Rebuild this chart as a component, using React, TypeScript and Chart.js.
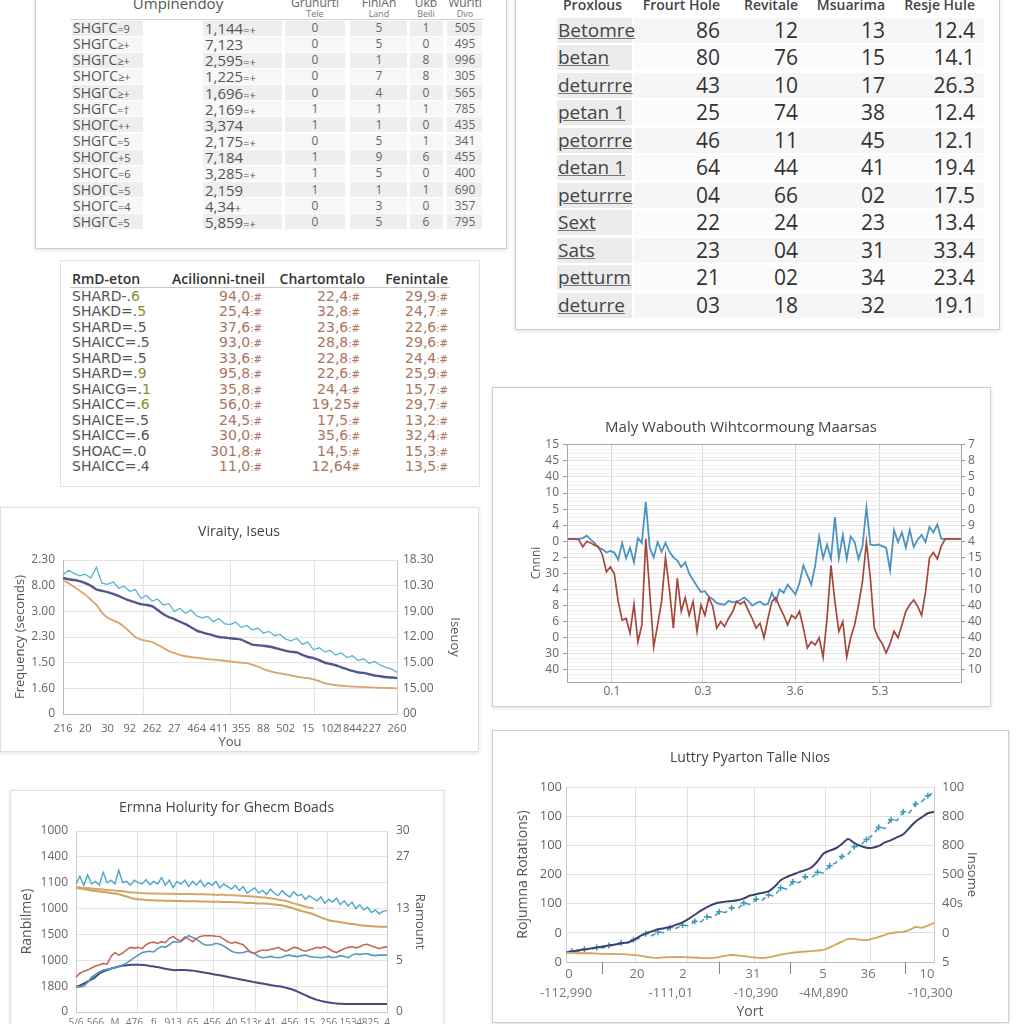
import React, { useEffect, useRef } from 'react';
import { Chart, registerables } from 'chart.js';

Chart.register(...registerables);

const FONT = '"Open Sans", "DejaVu Sans", sans-serif';
const WIDE = '"DejaVu Sans", "Open Sans", sans-serif';

// ---------------- Table 1 data ----------------
const t1Labels = ['SHGΓC=9', 'SHGΓC≥+', 'SHGΓC≥+', 'SHOΓC≥+', 'SHGΓC≥+', 'SHGΓC=†', 'SHOΓC++', 'SHGΓC=5', 'SHOΓC+5', 'SHOΓC=6', 'SHOΓC=5', 'SHOΓC=4', 'SHGΓC=5'];
const t1Values = ['1,144=+', '7,123', '2,595=+', '1,225=+', '1,696=+', '2,169=+', '3,374', '2,175=+', '7,184', '3,285=+', '2,159', '4,34+', '5,859=+'];
const t1ColA = ['0', '0', '0', '0', '0', '1', '1', '0', '1', '1', '1', '0', '0'];
const t1ColB = ['5', '5', '1', '7', '4', '1', '1', '5', '9', '5', '1', '3', '5'];
const t1ColC = ['1', '0', '8', '8', '0', '1', '0', '1', '6', '0', '1', '0', '6'];
const t1ColD = ['505', '495', '996', '305', '565', '785', '435', '341', '455', '400', '690', '357', '795'];

// ---------------- Table 2 data ----------------
const t2Headers = ['Proxlous', 'Frourt Hole', 'Revitale', 'Msuarima', 'Resje Hule'];
const t2Labels = ['Betomre', 'betan', 'deturrre', 'petan 1', 'petorrre', 'detan 1', 'peturrre', 'Sext', 'Sats', 'petturm', 'deturre'];
const t2Col1 = ['86', '80', '43', '25', '46', '64', '04', '22', '23', '21', '03'];
const t2Col2 = ['12', '76', '10', '74', '11', '44', '66', '24', '04', '02', '18'];
const t2Col3 = ['13', '15', '17', '38', '45', '41', '02', '23', '31', '34', '32'];
const t2Col4 = ['12.4', '14.1', '26.3', '12.4', '12.1', '19.4', '17.5', '13.4', '33.4', '23.4', '19.1'];

// ---------------- Table 3 data ----------------
const t3Headers = ['RmD-eton', 'Acilionni-tneil', 'Chartomtalo', 'Fenintale'];
const t3Labels = ['SHARD-.6', 'SHAKD=.5', 'SHARD=.5', 'SHAICC=.5', 'SHARD=.5', 'SHARD=.9', 'SHAICG=.1', 'SHAICC=.6', 'SHAICE=.5', 'SHAICC=.6', 'SHOAC=.0', 'SHAICC=.4'];
const t3Col1 = ['94,0:#', '25,4:#', '37,6:#', '93,0:#', '33,6:#', '95,8:#', '35,8:#', '56,0:#', '24,5:#', '30,0:#', '301,8:#', '11,0:#'];
const t3Col2 = ['22,4:#', '32,8:#', '23,6:#', '28,8:#', '22,8:#', '22,6:#', '24,4:#', '19,25#', '17,5:#', '35,6:#', '14,5:#', '12,64#'];
const t3Col3 = ['29,9:#', '24,7:#', '22,6:#', '29,6:#', '24,4:#', '25,9:#', '15,7:#', '29,7:#', '13,2:#', '32,4:#', '15,3:#', '13,5:#'];

// ---------------- Chart 1: Viraity, Iseus ----------------
const c1Title = 'Viraity, Iseus';
const c1XTicks = ['216', '20', '30', '92', '262', '27', '464', '411', '355', '88', '502', '15', '102', '18442', '27', '260'];
const c1YLeft = ['0', '1.60', '1.50', '2.30', '3.00', '8.00', '2.30'];
const c1YRight = ['00', '15.00', '15.00', '12.00', '19.00', '10.30', '18.30'];
const c1Blue = [
  5.42, 5.6, 5.48, 5.38, 5.45, 5.3, 5.72, 5.1, 5.05, 5.15,
  4.9, 4.98, 4.78, 4.85, 4.5, 4.62, 4.4, 4.48, 4.25, 4.3,
  4.0, 4.12, 3.92, 4.05, 3.82, 3.75, 3.8, 3.6, 3.72, 3.52,
  3.48, 3.58, 3.38, 3.45, 3.28, 3.35, 3.15, 3.22, 3.05, 3.1,
  2.92, 2.85, 2.95, 2.72, 2.8, 2.5, 2.58, 2.42, 2.48, 2.3,
  2.38, 2.2, 2.27, 2.08, 2.15, 1.98, 2.05, 1.9, 1.82, 1.76,
  1.62,
];
const c1Navy = [
  5.3, 5.25, 5.22, 5.18, 5.1, 5.0, 4.85, 4.8, 4.75, 4.68,
  4.6, 4.5, 4.42, 4.35, 4.28, 4.25, 4.2, 4.05, 3.9, 3.78,
  3.7, 3.6, 3.5, 3.38, 3.25, 3.18, 3.12, 3.06, 3.0, 2.98,
  2.95, 2.93, 2.9, 2.8, 2.7, 2.68, 2.66, 2.63, 2.58, 2.52,
  2.46, 2.42, 2.4, 2.3, 2.22, 2.18, 2.1, 2.0, 1.95, 1.9,
  1.82, 1.75, 1.68, 1.62, 1.6, 1.55, 1.5, 1.47, 1.44, 1.42,
  1.4,
];
const c1Orange = [
  5.2, 5.1, 4.95, 4.8, 4.65, 4.45, 4.25, 3.95, 3.75, 3.65,
  3.55, 3.4, 3.2, 3.0, 2.9, 2.85, 2.8, 2.7, 2.58, 2.45,
  2.38, 2.3, 2.25, 2.22, 2.2, 2.17, 2.14, 2.12, 2.1, 2.08,
  2.05, 2.02, 2.0, 1.98, 1.92, 1.85, 1.75, 1.68, 1.62, 1.58,
  1.54, 1.5, 1.46, 1.42, 1.4, 1.35, 1.28, 1.2, 1.15, 1.12,
  1.1, 1.09, 1.07, 1.06, 1.05, 1.04, 1.03, 1.02, 1.02, 1.01,
  1.0,
];

// ---------------- Chart 2: Maly Wabouth ... ----------------
const c2Title = 'Maly Wabouth Wihtcormoung Maarsas';
const c2XTicks = ['0.1', '0.3', '3.6', '5.3'];
const c2YLeft = ['15', '45', '40', '10', '5', '4', '0', '2', '30', '4', '8', '6', '0', '30', '40'];
const c2YRight = ['7', '8', '5', '0', '0', '9', '4', '15', '10', '10', '40', '40', '40', '20', '10'];
const c2Blue = [
  8.15, 8.15, 8.15, 8.15, 8.2, 8.35, 8.1, 7.9, 7.6, 7.5,
  7.3, 7.4, 7.3, 6.85, 7.9, 6.95, 7.6, 6.7, 8.2, 7.9,
  10.45, 7.6, 7.0, 7.95, 7.35, 7.9, 7.35, 7.0, 6.8, 6.4,
  6.7, 6.0, 5.6, 5.2, 4.85, 4.9, 4.55, 4.4, 4.15, 4.1,
  4.05, 4.3, 4.2, 4.25, 4.35, 4.5, 4.3, 4.0, 4.15, 4.25,
  4.05, 4.1, 4.8, 4.25, 5.0, 4.8, 5.3, 5.0, 4.7, 5.4,
  6.5, 5.9, 5.3, 6.5, 8.3, 6.95, 7.8, 6.9, 9.5, 6.95,
  8.4, 6.9, 8.3, 7.95, 6.9, 7.7, 10.1, 7.8, 7.75, 7.8,
  7.7, 7.6, 6.2, 8.7, 7.95, 8.55, 7.6, 8.7, 7.65, 8.1,
  8.4, 7.95, 8.9, 8.55, 9.05, 8.15, 8.15, 8.15, 8.15, 8.15,
  8.15,
];
const c2Red = [
  8.15, 8.15, 8.15, 8.1, 7.65, 8.0, 7.9, 7.75, 7.65, 7.15,
  6.1, 6.4, 6.0, 4.25, 3.1, 3.2, 2.3, 4.1, 1.75, 2.8,
  8.15, 4.85, 1.43, 2.8, 4.25, 7.0, 5.0, 2.6, 5.7, 3.65,
  4.5, 3.4, 4.25, 2.4, 4.05, 3.4, 4.5, 3.95, 2.6, 3.0,
  2.7, 3.2, 3.6, 4.25, 4.1, 4.25, 3.7, 3.2, 2.6, 2.9,
  2.0, 3.2, 4.25, 4.5, 3.9, 3.4, 2.8, 3.4, 3.2, 3.65,
  2.6, 1.37, 1.75, 1.55, 2.0, 0.8, 3.2, 6.5, 4.25, 2.4,
  3.0, 0.8, 2.0, 2.8, 4.05, 5.5, 7.95, 5.7, 2.6, 2.0,
  1.65, 1.05, 1.65, 2.4, 2.0, 2.8, 3.65, 4.05, 4.35, 3.95,
  3.4, 4.85, 6.97, 7.3, 6.9, 7.7, 8.15, 8.15, 8.15, 8.15,
  8.15,
];

// ---------------- Chart 3: Ermna Holurity ... ----------------
const c3Title = 'Ermna Holurity for Ghecm Boads';
const c3XTicks = ['5/6', '566', 'M', '476', 'fi', '913', '65', '456', '40', '513r', '41', '456', '15', '256', '153', '4825', '4'];
const c3YLeft = ['0', '1800', '1000', '1500', '1000', '1100', '1400', '1000'];
const c3YRightValues = [0, 2, 4, 6, 7];
const c3YRight = ['0', '5', '13', '27', '30'];
const c3Blue = [
  4.95, 5.25, 4.9, 5.3, 4.95, 5.05, 4.9, 5.4, 5.0, 5.1,
  4.95, 5.48, 5.0, 5.05, 4.9, 5.1, 5.0, 4.95, 5.12, 4.92,
  5.05, 4.95, 5.2, 4.9, 5.1, 4.8, 5.05, 4.95, 5.1, 4.85,
  5.05, 4.9, 5.1, 4.85, 5.0, 4.9, 5.05, 4.8, 4.95, 4.85,
  4.75, 4.9, 4.7, 4.85, 4.6, 4.7, 4.8, 4.6, 4.7, 4.55,
  4.75, 4.6, 4.5, 4.7, 4.55, 4.45, 4.65, 4.5, 4.55, 4.35,
  4.5, 4.4, 4.3, 4.45, 4.2, 4.35, 4.25, 4.4, 4.15, 4.3,
  4.1, 4.25, 4.0, 4.15, 3.95, 4.05, 3.85, 3.95, 3.8, 3.9,
  3.92,
];
const c3TanA = [
  4.83, 4.82, 4.8, 4.79, 4.78, 4.76, 4.75, 4.74, 4.72, 4.71,
  4.7, 4.68, 4.67, 4.65, 4.63, 4.62, 4.61, 4.6, 4.59, 4.58,
  4.58, 4.58, 4.57, 4.57, 4.57, 4.57, 4.56, 4.56, 4.56, 4.56,
  4.56, 4.55, 4.55, 4.55, 4.54, 4.54, 4.53, 4.53, 4.53, 4.52,
  4.52, 4.51, 4.5, 4.49, 4.48, 4.47, 4.46, 4.45, 4.43, 4.42,
  4.4, 4.38, 4.35, 4.32, 4.29, 4.25, 4.2, 4.16, 4.12, 4.08,
  4.04, 4.02, null, null, null, null, null, null, null, null,
  null, null, null, null, null, null, null, null, null, null,
  null,
];
const c3TanB = [
  4.8, 4.78, 4.76, 4.73, 4.7, 4.68, 4.66, 4.64, 4.62, 4.6,
  4.58, 4.55, 4.51, 4.47, 4.42, 4.38, 4.36, 4.35, 4.33, 4.32,
  4.32, 4.31, 4.31, 4.3, 4.3, 4.3, 4.29, 4.29, 4.28, 4.28,
  4.28, 4.28, 4.27, 4.27, 4.27, 4.26, 4.26, 4.26, 4.25, 4.25,
  4.25, 4.24, 4.24, 4.23, 4.22, 4.22, 4.21, 4.2, 4.2, 4.19,
  4.18, 4.16, 4.14, 4.12, 4.09, 4.05, 4.0, 3.95, 3.9, 3.87,
  3.83, 3.78, 3.72, 3.66, 3.6, 3.55, 3.52, 3.5, 3.47, 3.45,
  3.42, 3.4, 3.38, 3.36, 3.34, 3.33, 3.32, 3.31, 3.3, 3.3,
  3.29,
];
const c3Red = [
  1.35, 1.5, 1.58, 1.62, 1.7, 1.78, 1.82, 1.88, 1.85, 2.15,
  2.3, 2.2, 2.28, 2.4, 2.5, 2.47, 2.5, 2.45, 2.6, 2.68,
  2.7, 2.65, 2.72, 2.68, 2.85, 2.92, 2.8, 2.75, 2.9, 2.82,
  2.72, 2.85, 2.92, 2.95, 2.95, 2.95, 2.93, 2.92, 2.82, 2.72,
  2.66, 2.7, 2.65, 2.6, 2.45, 2.3, 2.28, 2.35, 2.4, 2.38,
  2.42, 2.45, 2.5, 2.42, 2.35, 2.42, 2.5, 2.48, 2.4, 2.35,
  2.4, 2.45, 2.5, 2.48, 2.52, 2.45, 2.35, 2.3, 2.38, 2.45,
  2.5, 2.52, 2.48, 2.52, 2.6, 2.62, 2.55, 2.5, 2.45, 2.5,
  2.52,
];
const c3Teal = [
  0.97, 0.97, 1.0, 1.15, 1.35, 1.45, 1.55, 1.62, 1.65, 1.68,
  1.72, 1.76, 1.82, 1.89, 2.0, 2.1, 2.2, 2.3, 2.33, 2.35,
  2.32, 2.45, 2.53, 2.5, 2.6, 2.72, 2.7, 2.72, 2.85, 2.95,
  2.88, 2.82, 2.7, 2.6, 2.58, 2.6, 2.66, 2.62, 2.55, 2.45,
  2.35, 2.3, 2.28, 2.3, 2.35, 2.32, 2.25, 2.15, 2.1, 2.12,
  2.15, 2.12, 2.1, 2.12, 2.18, 2.2, 2.16, 2.14, 2.18, 2.2,
  2.15, 2.13, 2.12, 2.1, 2.12, 2.15, 2.1, 2.13, 2.18, 2.15,
  2.1, 2.2, 2.25, 2.22, 2.25, 2.25, 2.2, 2.18, 2.2, 2.2,
  2.2,
];
const c3Navy = [
  0.97, 1.02, 1.1, 1.18, 1.26, 1.36, 1.48, 1.56, 1.62, 1.68,
  1.72, 1.76, 1.79, 1.81, 1.82, 1.83, 1.83, 1.82, 1.81, 1.78,
  1.76, 1.74, 1.7, 1.67, 1.64, 1.62, 1.62, 1.62, 1.62, 1.61,
  1.6, 1.58, 1.55, 1.53, 1.5, 1.47, 1.44, 1.42, 1.39, 1.36,
  1.33, 1.3, 1.27, 1.24, 1.21, 1.18, 1.15, 1.12, 1.1, 1.07,
  1.04, 1.02, 1.0, 0.98, 0.94, 0.9, 0.85, 0.79, 0.72, 0.65,
  0.58, 0.52, 0.47, 0.43, 0.4, 0.37, 0.35, 0.33, 0.32, 0.31,
  0.31, 0.31, 0.31, 0.31, 0.31, 0.31, 0.31, 0.31, 0.31, 0.31,
  0.31,
];

// ---------------- Chart 4: Luttry Pyarton Talle Nios ----------------
const c4Title = 'Luttry Pyarton Talle Nios';
const c4XTop = ['0', '20', '2', '31', '5', '36', '10'];
const c4XBottom = ['-112,990', '-111,01', '-10,390', '-4M,890', '-10,300'];
const c4YLeft = ['0', '0', '100', '200', '100', '100', '100'];
const c4YRight = ['5', '0', '40s', '500', '800', '800', '100'];
const c4Navy = [
  0.32, 0.36, 0.4, 0.43, 0.46, 0.5, 0.53, 0.57, 0.6, 0.64,
  0.67, 0.75, 0.88, 0.98, 1.05, 1.12, 1.16, 1.2, 1.28, 1.36,
  1.48, 1.62, 1.76, 1.88, 1.98, 2.04, 2.07, 2.09, 2.12, 2.18,
  2.28, 2.32, 2.37, 2.42, 2.58, 2.8, 2.92, 3.0, 3.08, 3.15,
  3.24, 3.45, 3.72, 3.82, 3.9, 4.05, 4.22, 4.08, 3.98, 3.92,
  3.92, 3.98, 4.1, 4.18, 4.28, 4.38, 4.6, 4.82, 4.96, 5.1,
  5.15,
];
const c4Teal = [
  0.32, 0.38, 0.36, 0.44, 0.42, 0.5, 0.48, 0.57, 0.58, 0.66,
  0.64, 0.76, 0.82, 0.97, 0.9, 1.02, 1.0, 1.18, 1.16, 1.26,
  1.24, 1.4, 1.38, 1.55, 1.52, 1.72, 1.7, 1.86, 1.82, 2.02,
  1.98, 2.15, 2.12, 2.3, 2.26, 2.55, 2.5, 2.75, 2.72, 2.92,
  2.88, 3.08, 3.05, 3.3, 3.4, 3.62, 3.7, 3.95, 4.0, 4.2,
  4.35, 4.62, 4.58, 4.88, 4.85, 5.15, 5.12, 5.42, 5.5, 5.7,
  5.82,
];
const c4Orange = [
  0.31, 0.31, 0.3, 0.3, 0.3, 0.29, 0.28, 0.28, 0.27, 0.27,
  0.26, 0.24, 0.22, 0.18, 0.15, 0.14, 0.16, 0.17, 0.17, 0.17,
  0.16, 0.15, 0.14, 0.13, 0.14, 0.17, 0.21, 0.24, 0.23, 0.2,
  0.17, 0.15, 0.14, 0.16, 0.2, 0.25, 0.29, 0.32, 0.34, 0.36,
  0.37, 0.39, 0.42, 0.5, 0.6, 0.7, 0.79, 0.79, 0.76, 0.75,
  0.8, 0.86, 0.93, 0.99, 1.02, 1.03, 1.1, 1.2, 1.17, 1.25,
  1.34,
];

// ---------------- helpers ----------------
const guides = {
  id: 'guides',
  beforeDatasetsDraw(chart: any, _a: any, o: any) {
    const opts = o || {};
    const { ctx, chartArea: a } = chart;
    const w = a.right - a.left;
    const h = a.bottom - a.top;
    ctx.save();
    ctx.lineWidth = 1;
    if (opts.minorH) {
      ctx.strokeStyle = opts.minorColor || '#f1f1f1';
      opts.minorH.forEach((f: number) => {
        const y = Math.round(a.top + f * h) + 0.5;
        ctx.beginPath(); ctx.moveTo(a.left, y); ctx.lineTo(a.right, y); ctx.stroke();
      });
    }
    if (opts.v) {
      ctx.strokeStyle = opts.vColor || '#e0e0e0';
      opts.v.forEach((f: number) => {
        const x = Math.round(a.left + f * w) + 0.5;
        ctx.beginPath(); ctx.moveTo(x, a.top); ctx.lineTo(x, a.bottom); ctx.stroke();
      });
    }
    ctx.restore();
  },
  afterDraw(chart: any, _a: any, o: any) {
    const opts = o || {};
    const { ctx, chartArea: a } = chart;
    ctx.save();
    ctx.lineWidth = 1;
    if (opts.frame) {
      ctx.strokeStyle = opts.frame;
      ctx.strokeRect(Math.round(a.left) + 0.5, Math.round(a.top) + 0.5, Math.round(a.right - a.left), Math.round(a.bottom - a.top));
    }
    if (opts.marks) {
      ctx.strokeStyle = opts.markColor || '#888';
      opts.marks.forEach((f: number) => {
        const x = Math.round(a.left + f * (a.right - a.left)) + 0.5;
        ctx.beginPath(); ctx.moveTo(x, a.bottom); ctx.lineTo(x, a.bottom + (opts.markLen || 10)); ctx.stroke();
      });
    }
    ctx.restore();
  },
};

const setTicks = (values: number[]) => (s: any) => {
  s.ticks = values.map((v) => ({ value: v }));
};
const range = (n: number) => Array.from({ length: n }, (_, i) => i);
const tickFont = (size: number) => ({ family: FONT, size });
const axisTitle = (text: string, pad: number, size = 13) => ({
  display: true,
  text,
  color: '#555',
  font: { family: FONT, size },
  padding: { top: pad, bottom: 0 },
});
const titleOpt = (text: string, size: number, top: number, bottom: number) => ({
  display: true,
  text,
  color: '#444',
  font: { family: FONT, size, weight: 'normal' as const },
  padding: { top, bottom },
});
const line = (data: any[], color: string, width: number, extra: any = {}) => ({
  data,
  borderColor: color,
  backgroundColor: color,
  borderWidth: width,
  pointRadius: 0,
  tension: 0,
  fill: false,
  ...extra,
});

// ---------------- chart configs ----------------
function makeChart1(): any {
  return {
    type: 'line',
    data: {
      labels: c1Blue.map((_, i) => String(i)),
      datasets: [
        line(c1Orange, '#d9a36a', 1.8, { tension: 0.3 }),
        line(c1Navy, '#53568f', 2.4, { tension: 0.2 }),
        line(c1Blue, '#5bb2d6', 1.3),
      ],
    },
    options: {
      responsive: false,
      animation: false,
      layout: { padding: 0 },
      plugins: {
        legend: { display: false },
        tooltip: { enabled: false },
        title: titleOpt(c1Title, 14, 16.6, 19.6),
        guides: { v: [0.24, 0.5, 0.75], vColor: '#e4e4e4' },
      },
      scales: {
        x: { type: 'category', display: false },
        xl: {
          type: 'linear', position: 'bottom', min: 0, max: 15,
          afterBuildTicks: setTicks(range(c1XTicks.length)),
          ticks: { callback: (_v: any, i: number) => c1XTicks[i], color: '#666', font: tickFont(11), padding: 8, maxRotation: 0, autoSkip: false },
          grid: { display: false, drawTicks: false },
          border: { display: true, color: '#bbb' },
          title: { display: true, text: 'You', color: '#555', font: { family: FONT, size: 13 }, padding: { top: 0, bottom: 0 } },
          afterFit: (s: any) => { s.height = 36; },
        },
        y: {
          position: 'left', min: 0, max: 6,
          afterBuildTicks: setTicks(range(7)),
          ticks: { callback: (v: any) => c1YLeft[Math.round(v)], color: '#666', font: tickFont(12), padding: 8, autoSkip: false },
          grid: { color: '#e4e4e4', drawTicks: false },
          border: { display: true, color: '#bbb' },
          title: axisTitle('Frequency (seconds)', 12),
          afterFit: (s: any) => { s.width = 63; },
        },
        y1: {
          position: 'right', min: 0, max: 6,
          afterBuildTicks: setTicks(range(7)),
          ticks: { callback: (v: any) => c1YRight[Math.round(v)], color: '#666', font: tickFont(12), padding: 6, autoSkip: false },
          grid: { drawOnChartArea: false, drawTicks: false },
          border: { display: true, color: '#ccc' },
          title: axisTitle('Iseuoy', 15),
          afterFit: (s: any) => { s.width = 81; },
        },
      },
    },
    plugins: [guides],
  };
}

function makeChart2(): any {
  const minor: number[] = [];
  for (let k = -3; k <= 56; k++) {
    if (k % 4 !== 0) minor.push((14.05 - k / 4) / 14.8);
  }
  return {
    type: 'line',
    data: {
      labels: c2Blue.map((_, i) => String(i)),
      datasets: [
        line(c2Red, '#a4483e', 1.7),
        line(c2Blue, '#4c93c0', 1.8),
      ],
    },
    options: {
      responsive: false,
      animation: false,
      layout: { padding: 0 },
      plugins: {
        legend: { display: false },
        tooltip: { enabled: false },
        title: titleOpt(c2Title, 15, 32, 7),
        guides: { minorH: minor, minorColor: '#efefef', frame: '#a8a8a8' },
      },
      scales: {
        x: { type: 'category', display: false },
        xl: {
          type: 'linear', position: 'bottom', min: 0, max: 100,
          afterBuildTicks: setTicks([11.4, 34.5, 57.9, 79.4]),
          ticks: { callback: (_v: any, i: number) => c2XTicks[i], color: '#666', font: tickFont(12), padding: 2, maxRotation: 0, autoSkip: false },
          grid: { display: true, color: '#d6d6d6', drawTicks: false },
          border: { display: false },
          afterFit: (s: any) => { s.height = 23; },
        },
        y: {
          position: 'left', min: -0.75, max: 14.05,
          afterBuildTicks: setTicks(range(15)),
          ticks: { callback: (v: any) => c2YLeft[14 - Math.round(v)], color: '#666', font: tickFont(12), padding: 4, autoSkip: false },
          grid: { color: '#e2e2e2', drawTicks: true, tickLength: 4, tickColor: '#999' },
          border: { display: false },
          title: axisTitle('Cnnni', 37, 12),
          afterFit: (s: any) => { s.width = 75; },
        },
        y1: {
          position: 'right', min: -0.75, max: 14.05,
          afterBuildTicks: setTicks(range(15)),
          ticks: { callback: (v: any) => c2YRight[14 - Math.round(v)], color: '#666', font: tickFont(12), padding: 3, autoSkip: false },
          grid: { drawOnChartArea: false, drawTicks: true, tickLength: 4, tickColor: '#999' },
          border: { display: false },
          afterFit: (s: any) => { s.width = 29; },
        },
      },
    },
    plugins: [guides],
  };
}

function makeChart3(): any {
  return {
    type: 'line',
    data: {
      labels: c3Blue.map((_, i) => String(i)),
      datasets: [
        line(c3TanA, '#d6a865', 2, { tension: 0.3, spanGaps: false }),
        line(c3TanB, '#d2a15e', 2, { tension: 0.3 }),
        line(c3Blue, '#4ea6ca', 1.4),
        line(c3Red, '#c0695c', 1.6),
        line(c3Teal, '#5597bf', 1.6),
        line(c3Navy, '#4a4880', 2, { tension: 0.3 }),
      ],
    },
    options: {
      responsive: false,
      animation: false,
      layout: { padding: 0 },
      plugins: {
        legend: { display: false },
        tooltip: { enabled: false },
        title: titleOpt(c3Title, 14, 9.6, 14.6),
        guides: { v: [0.196, 0.322, 0.441, 0.576, 0.711, 0.807], vColor: '#e2e2e2' },
      },
      scales: {
        x: { type: 'category', display: false },
        xl: {
          type: 'linear', position: 'bottom', min: 0, max: 16,
          afterBuildTicks: setTicks(range(c3XTicks.length)),
          ticks: { callback: (_v: any, i: number) => c3XTicks[i], color: '#777', font: tickFont(10), padding: 5, maxRotation: 0, autoSkip: false },
          grid: { display: false, drawTicks: false },
          border: { display: true, color: '#ccc' },
          afterFit: (s: any) => { s.height = 28; },
        },
        y: {
          position: 'left', min: 0, max: 7,
          afterBuildTicks: setTicks(range(8)),
          ticks: { callback: (v: any) => c3YLeft[Math.round(v)], color: '#666', font: tickFont(12), padding: 8, autoSkip: false },
          grid: { color: '#e2e2e2', drawTicks: false },
          border: { display: true, color: '#ccc' },
          title: axisTitle('Ranbilme)', 9, 14),
          afterFit: (s: any) => { s.width = 66; },
        },
        y1: {
          position: 'right', min: 0, max: 7,
          afterBuildTicks: setTicks(c3YRightValues),
          ticks: { callback: (_v: any, i: number) => c3YRight[i], color: '#666', font: tickFont(12), padding: 9, autoSkip: false },
          grid: { drawOnChartArea: false, drawTicks: false },
          border: { display: true, color: '#ccc' },
          title: axisTitle('Ramount', 15),
          afterFit: (s: any) => { s.width = 56; },
        },
      },
    },
    plugins: [guides],
  };
}

function makeChart4(): any {
  return {
    type: 'line',
    data: {
      labels: c4Navy.map((_, i) => String(i)),
      datasets: [
        line(c4Orange, '#d8a35a', 1.8, { tension: 0.3 }),
        line(c4Navy, '#3f406e', 2, { tension: 0.3 }),
        line(c4Teal, '#3b9ab8', 1.5, {
          borderDash: [5, 4],
          pointStyle: 'cross',
          pointRadius: (ctx: any) => (ctx.dataIndex % 2 === 1 ? 3 : 0),
          pointBorderWidth: 1.5,
          pointBorderColor: '#3b9ab8',
        }),
      ],
    },
    options: {
      responsive: false,
      animation: false,
      layout: { padding: 0 },
      plugins: {
        legend: { display: false },
        tooltip: { enabled: false },
        title: titleOpt(c4Title, 14, 19.6, 20.6),
        guides: { v: [0.188, 0.329, 0.511, 0.704, 0.826], vColor: '#e0e0e0', marks: [0.098, 0.416, 0.609, 0.921], markLen: 12, markColor: '#888' },
      },
      scales: {
        x: { type: 'category', display: false },
        xa: {
          type: 'linear', position: 'bottom', weight: 1, min: 0, max: 100,
          afterBuildTicks: setTicks([0.8, 19.3, 31.8, 50.8, 69.8, 82.1, 98.1]),
          ticks: { callback: (_v: any, i: number) => c4XTop[i], color: '#777', font: tickFont(13), padding: 4, maxRotation: 0, autoSkip: false },
          grid: { display: false, drawTicks: false },
          border: { display: true, color: '#bbb' },
          afterFit: (s: any) => { s.height = 20; },
        },
        xb: {
          type: 'linear', position: 'bottom', weight: 2, min: 0, max: 100,
          afterBuildTicks: setTicks([0, 28.5, 51.6, 70, 99]),
          ticks: { callback: (_v: any, i: number) => c4XBottom[i], color: '#777', font: tickFont(13), padding: 3, maxRotation: 0, autoSkip: false },
          grid: { display: false, drawTicks: false },
          border: { display: false },
          title: { display: true, text: 'Yort', color: '#555', font: { family: FONT, size: 14 }, padding: { top: 0, bottom: 4 } },
          afterFit: (s: any) => { s.height = 42; },
        },
        y: {
          position: 'left', min: 0, max: 6,
          afterBuildTicks: setTicks(range(7)),
          ticks: { callback: (v: any) => c4YLeft[Math.round(v)], color: '#666', font: tickFont(13), padding: 4, autoSkip: false },
          grid: { color: '#e0e0e0', drawTicks: false },
          border: { display: true, color: '#ccc' },
          title: axisTitle('Rojumna Rotations)', 23, 14),
          afterFit: (s: any) => { s.width = 74; },
        },
        y1: {
          position: 'right', min: 0, max: 6,
          afterBuildTicks: setTicks(range(7)),
          ticks: { callback: (v: any) => c4YRight[Math.round(v)], color: '#666', font: tickFont(13), padding: 8, autoSkip: false },
          grid: { drawOnChartArea: false, drawTicks: false },
          border: { display: true, color: '#ccc' },
          title: axisTitle('Insome', 28),
          afterFit: (s: any) => { s.width = 74; },
        },
      },
    },
    plugins: [guides],
  };
}

// ---------------- components ----------------
function ChartCanvas({ left, top, width, height, make }: any) {
  const ref = useRef<HTMLCanvasElement>(null);
  useEffect(() => {
    const chart = new Chart(ref.current as HTMLCanvasElement, make());
    return () => chart.destroy();
  }, []);
  return <canvas ref={ref} width={width} height={height} style={{ position: 'absolute', left, top, width, height }} />;
}

function T({ x, y, align = 'left', size = 13, color = '#555', weight = 400, family, children, style = {} }: any) {
  const lh = Math.round(size * 1.3);
  const base: any = {
    position: 'absolute', top: y - lh / 2, lineHeight: lh + 'px', fontSize: size, color,
    fontWeight: weight, whiteSpace: 'nowrap',
  };
  if (family) base.fontFamily = family;
  if (align === 'left') base.left = x;
  else if (align === 'right') base.right = 1024 - x;
  else { base.left = x; base.transform = 'translateX(-50%)'; }
  return <div style={{ ...base, ...style }}>{children}</div>;
}

function Box({ left, top, width, height, border = '#cfcfcf', shadow = true }: any) {
  return (
    <div style={{
      position: 'absolute', left, top, width, height, background: '#fff',
      border: `1px solid ${border}`, boxShadow: shadow ? '0 1px 4px rgba(0,0,0,0.13)' : 'none',
    }} />
  );
}

function Rect({ left, top, width, height, bg }: any) {
  return <div style={{ position: 'absolute', left, top, width, height, background: bg }} />;
}

const splitNum = (s: string) => {
  const m = s.match(/^([\d.,]+)(.*)$/);
  return m ? [m[1], m[2]] : [s, ''];
};

function Table1() {
  const rowY = (i: number) => 28 + 16.15 * i;
  const segs = [[72, 143], [203, 282], [285, 345], [350, 407], [410, 443], [447, 482]];
  return (
    <>
      <Box left={35} top={-12} width={470} height={259} />
      <Rect left={70} top={19} width={413} height={1} bg="#d4d4d4" />
      <T x={178} y={3} align="center" size={15} color="#555">Umpinendoy</T>
      <T x={315} y={3} align="center" size={12} color="#666">Grunurti</T>
      <T x={315} y={14} align="center" size={9} color="#777">Tele</T>
      <T x={379} y={3} align="center" size={12} color="#666">FiniAn</T>
      <T x={379} y={14} align="center" size={9} color="#777">Land</T>
      <T x={426} y={3} align="center" size={12} color="#666">Ukb</T>
      <T x={426} y={14} align="center" size={9} color="#777">Beili</T>
      <T x={465} y={3} align="center" size={12} color="#666">Wuriti</T>
      <T x={465} y={14} align="center" size={9} color="#777">Dvo</T>
      {t1Labels.map((lab, i) => {
        const y = rowY(i);
        const bg = i % 2 === 0 ? '#eeeeee' : '#f7f7f7';
        const [vMain, vSuf] = splitNum(t1Values[i]);
        return (
          <React.Fragment key={'t1' + i}>
            {segs.map((s, k) => (
              <Rect key={k} left={s[0]} top={y - 7.5} width={s[1] - s[0]} height={15} bg={bg} />
            ))}
            <T x={73} y={y} size={14} color="#555">
              {lab.slice(0, 5)}<span style={{ fontSize: 11 }}>{lab.slice(5)}</span>
            </T>
            <T x={205} y={y} size={15} color="#555">
              {vMain}<span style={{ fontSize: 11 }}>{vSuf}</span>
            </T>
            <T x={315} y={y} align="center" size={12} color="#666">{t1ColA[i]}</T>
            <T x={379} y={y} align="center" size={12} color="#666">{t1ColB[i]}</T>
            <T x={426} y={y} align="center" size={12} color="#666">{t1ColC[i]}</T>
            <T x={465} y={y} align="center" size={12} color="#666">{t1ColD[i]}</T>
          </React.Fragment>
        );
      })}
    </>
  );
}

function Table2() {
  const rowY = (i: number) => 30 + 27.5 * i;
  const rights = [720, 798, 885, 975];
  const cols = [t2Col1, t2Col2, t2Col3, t2Col4];
  return (
    <>
      <Box left={515} top={-12} width={483} height={340} />
      <T x={563} y={5} size={14} color="#444" weight={600}>{t2Headers[0]}</T>
      {rights.map((r, k) => (
        <T key={'h' + k} x={r} y={5} align="right" size={14} color="#444" weight={600}>{t2Headers[k + 1]}</T>
      ))}
      {t2Labels.map((lab, i) => {
        const y = rowY(i);
        return (
          <React.Fragment key={'t2' + i}>
            <Rect left={557} top={y - 12.5} width={75} height={25} bg="#ececec" />
            <Rect left={634} top={y - 12.5} width={350} height={25} bg={i % 2 === 0 ? '#f6f6f6' : '#fbfbfb'} />
            <T x={558} y={y} size={19} color="#444" style={{ textDecoration: 'underline', textDecorationColor: '#777' }}>{lab}</T>
            {cols.map((c, k) => (
              <T key={k} x={rights[k]} y={y} align="right" size={21} color="#333">{c[i]}</T>
            ))}
          </React.Fragment>
        );
      })}
    </>
  );
}

function Table3() {
  const rowY = (i: number) => 296 + 15.45 * i;
  const rights = [262, 360, 448];
  const cols = [t3Col1, t3Col2, t3Col3];
  const olive = [1, 1, 0, 0, 0, 1, 1, 1, 0, 0, 0, 0];
  return (
    <>
      <Box left={60} top={260} width={418} height={225} border="#e2e2e2" shadow={false} />
      <T x={72} y={279} size={14} color="#333" weight={600}>{t3Headers[0]}</T>
      <T x={265} y={279} align="right" size={14} color="#333" weight={600}>{t3Headers[1]}</T>
      <T x={365} y={279} align="right" size={14} color="#333" weight={600}>{t3Headers[2]}</T>
      <T x={448} y={279} align="right" size={14} color="#333" weight={600}>{t3Headers[3]}</T>
      <Rect left={70} top={287} width={380} height={1} bg="#c8c8c8" />
      {t3Labels.map((lab, i) => {
        const y = rowY(i);
        return (
          <React.Fragment key={'t3' + i}>
            <T x={72} y={y} size={14} color="#555" family={WIDE}>
              {lab.slice(0, -1)}<span style={{ color: olive[i] ? '#8c8c2e' : '#555' }}>{lab.slice(-1)}</span>
            </T>
            {cols.map((c, k) => {
              const [m, suf] = splitNum(c[i]);
              return (
                <T key={k} x={rights[k]} y={y} align="right" size={14} color="#a9765c" family={WIDE}>
                  {m}<span style={{ fontSize: 10 }}>{suf}</span>
                </T>
              );
            })}
          </React.Fragment>
        );
      })}
    </>
  );
}

export default function App() {
  return (
    <div style={{ position: 'fixed', left: 0, top: 0, width: 1024, height: 1024, overflow: 'hidden', background: '#fff', fontFamily: FONT }}>
      <Table1 />
      <Table2 />
      <Table3 />
      <Box left={0} top={507} width={477} height={243} border="#e0e0e0" />
      <ChartCanvas left={0} top={507} width={478} height={243} make={makeChart1} />
      <Box left={492} top={387} width={497} height={318} border="#cfcfcf" />
      <ChartCanvas left={492} top={387} width={498} height={318} make={makeChart2} />
      <Box left={10} top={790} width={432} height={260} border="#e0e0e0" />
      <ChartCanvas left={10} top={790} width={433} height={250} make={makeChart3} />
      <Box left={492} top={730} width={515} height={291} border="#cfcfcf" />
      <ChartCanvas left={492} top={730} width={516} height={294} make={makeChart4} />
    </div>
  );
}
